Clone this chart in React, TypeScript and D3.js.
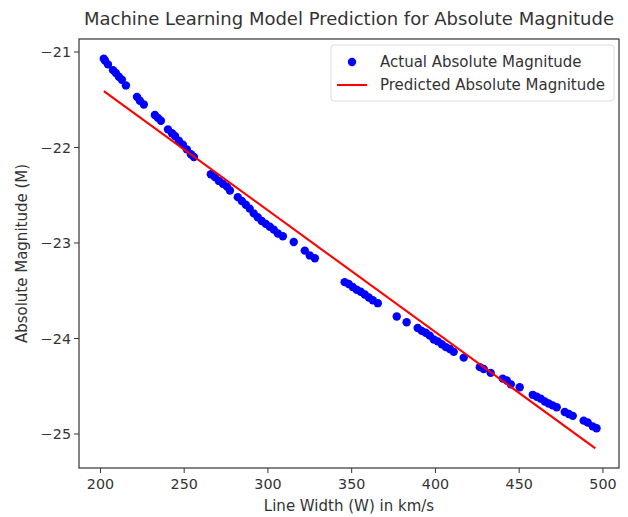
import * as d3 from 'd3';

// line width W (km/s) of each observed galaxy
const widths = [
    202, 202.7, 204.5, 207.5, 209.2, 211, 212.8, 215.2,
    221.8, 223.5, 225.9, 232.5, 234.3, 236.1, 240.3, 242.7, 244.5,
    246.8, 249.2, 251.6, 254, 255.8,
    265.9, 268.3, 270.7, 273.1, 275.5, 277.3,
    282, 284.4, 286.8, 289.1, 291.5, 293.9, 296.3, 298.7, 301.1, 303.5, 305.9, 308.9,
    315.4, 322, 325, 328,
    345.8, 348.2, 350.6, 353, 355.4, 357.8, 360.2, 362.6, 365.6,
    376.9, 382.8,
    389.4, 391.8, 394.2, 396.6, 399, 401.4, 403.8, 406.2, 408.6, 410.9,
    416.9, 426.5, 428.8, 433, 440.2, 442.6, 445, 450.3,
    458.1, 460.5, 462.9, 465.3, 467.6, 470, 472.4,
    477.2, 479.6, 482, 488.5, 490.9, 493.9, 496.2,
];

// actual absolute magnitude M
const magnitudes = [
    -21.07, -21.09, -21.13, -21.19, -21.22, -21.26, -21.29, -21.35,
    -21.47, -21.51, -21.55, -21.66, -21.69, -21.72, -21.81, -21.85, -21.88,
    -21.93, -21.97, -22.02, -22.07, -22.1,
    -22.28, -22.31, -22.35, -22.38, -22.41, -22.45,
    -22.52, -22.56, -22.6, -22.64, -22.69, -22.73, -22.77, -22.8, -22.83, -22.86, -22.9, -22.93,
    -22.99, -23.08, -23.13, -23.16,
    -23.41, -23.43, -23.46, -23.49, -23.51, -23.54, -23.57, -23.6, -23.63,
    -23.77, -23.83,
    -23.89, -23.92, -23.94, -23.97, -24.01, -24.03, -24.06, -24.09, -24.11, -24.14,
    -24.2, -24.3, -24.32, -24.36, -24.42, -24.44, -24.48, -24.51,
    -24.59, -24.61, -24.63, -24.66, -24.68, -24.7, -24.72,
    -24.77, -24.79, -24.81, -24.86, -24.88, -24.92, -24.94,
];

// model prediction (straight line) at the ends of the W range
const predWidths = [202, 495.5];
const predMagnitudes = [-21.41, -25.15];

const xTicks = [200, 250, 300, 350, 400, 450, 500];
const yTicks = [-21, -22, -23, -24, -25];

const legendLabels = ['Actual Absolute Magnitude', 'Predicted Absolute Magnitude'];

export default function App() {
    const width = 628;
    const height = 517;

    const margins = {
        top: 39,
        bottom: 49,
        left: 79,
        right: 9,
    };

    const font = '"DejaVu Sans", sans-serif';

    const xScale = d3
        .scaleLinear()
        .domain([187.2, 509.6])
        .range([margins.left, width - margins.right]);

    const yScale = d3
        .scaleLinear()
        .domain([-20.864, -25.356])
        .range([margins.top, height - margins.bottom]);

    const points = widths.map((w, i) => ({ w, m: magnitudes[i] }));
    const predLine = d3
        .line<number>()
        .x((d) => xScale(d))
        .y((_, i) => yScale(predMagnitudes[i]));

    const plotBottom = height - margins.bottom;
    const plotRight = width - margins.right;
    const minus = (v: number) => (v < 0 ? '\u2212' + Math.abs(v) : String(v));

    return (
        <svg
            width={width}
            height={height}
            style={{ position: 'absolute', left: 0, top: 0, background: '#fff' }}
            fontFamily={font}
        >
            <rect x={0} y={0} width={width} height={height} fill='#fff' />

            {/* data */}
            {points.map((d, i) => (
                <circle key={i} cx={xScale(d.w)} cy={yScale(d.m)} r={4.2} fill='#0000ff' />
            ))}
            <path d={predLine(predWidths) as string} fill='none' stroke='#ff0000' strokeWidth={2.1} />

            {/* frame */}
            <rect
                x={margins.left}
                y={margins.top}
                width={plotRight - margins.left}
                height={plotBottom - margins.top}
                fill='none'
                stroke='#333'
                strokeWidth={1.2}
            />

            {/* x axis */}
            {xTicks.map((t) => (
                <g key={t} transform={`translate(${xScale(t)}, ${plotBottom})`}>
                    <line y2={5} stroke='#333' />
                    <text y={21} textAnchor='middle' fontSize={14.3} fill='#333'>
                        {t}
                    </text>
                </g>
            ))}
            <text x={(margins.left + plotRight) / 2} y={511} textAnchor='middle' fontSize={15} fill='#333'>
                Line Width (W) in km/s
            </text>

            {/* y axis */}
            {yTicks.map((t) => (
                <g key={t} transform={`translate(${margins.left}, ${yScale(t)})`}>
                    <line x2={-5} stroke='#333' />
                    <text x={-8} dy='0.35em' textAnchor='end' fontSize={14.3} fill='#333'>
                        {minus(t)}
                    </text>
                </g>
            ))}
            <text
                transform={`translate(27, ${(margins.top + plotBottom) / 2}) rotate(-90)`}
                textAnchor='middle'
                fontSize={15}
                fill='#333'
            >
                Absolute Magnitude (M)
            </text>

            {/* title */}
            <text x={(margins.left + plotRight) / 2} y={25} textAnchor='middle' fontSize={18} fill='#333'>
                Machine Learning Model Prediction for Absolute Magnitude
            </text>

            {/* legend */}
            <g transform='translate(331, 45)'>
                <rect width={283} height={56} rx={3} fill='#fff' fillOpacity={0.8} stroke='#ddd' />
                <circle cx={21} cy={17} r={4.2} fill='#0000ff' />
                <text x={49} y={17} dy='0.35em' fontSize={15} fill='#333'>
                    {legendLabels[0]}
                </text>
                <line x1={6} x2={36} y1={40} y2={40} stroke='#ff0000' strokeWidth={2.1} />
                <text x={49} y={40} dy='0.35em' fontSize={15} fill='#333'>
                    {legendLabels[1]}
                </text>
            </g>
        </svg>
    );
}
